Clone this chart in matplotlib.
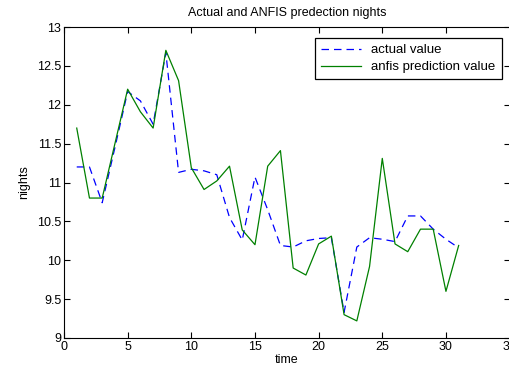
import matplotlib.pyplot as plt

plt.rcParams['font.family'] = ['Liberation Sans', 'DejaVu Sans']

time = list(range(1, 32))
actual = [11.2, 11.2, 10.74, 11.45, 12.17, 12.05, 11.75, 12.67, 11.13, 11.17,
          11.15, 11.1, 10.55, 10.26, 11.07, 10.65, 10.19, 10.17, 10.25, 10.28,
          10.29, 9.33, 10.17, 10.29, 10.27, 10.24, 10.57, 10.57, 10.40, 10.27,
          10.16]
anfis = [11.7, 10.8, 10.8, 11.5, 12.2, 11.91, 11.7, 12.7, 12.31, 11.19,
         10.91, 11.02, 11.21, 10.39, 10.2, 11.21, 11.41, 9.9, 9.81, 10.21,
         10.31, 9.3, 9.22, 9.92, 11.31, 10.21, 10.11, 10.4, 10.4, 9.6,
         10.19]
xticks = [0, 5, 10, 15, 20, 25, 30, 35]
yticks = [9, 9.5, 10, 10.5, 11, 11.5, 12, 12.5, 13]

fig = plt.figure(figsize=(5.09, 3.70), dpi=100)
ax = fig.add_axes([64 / 509, 32 / 370, 445.6 / 509, 311 / 370])

ax.plot(time, actual, color='blue', linestyle='--', dashes=(6, 4), linewidth=0.9,
        label='actual value')
ax.plot(time, anfis, color='#008000', linestyle='-', linewidth=0.9,
        label='anfis prediction value')

ax.set_xlim(0, 35)
ax.set_ylim(9, 13)
ax.set_xticks(xticks)
ax.set_yticks(yticks)
ax.set_yticklabels(['9', '9.5', '10', '10.5', '11', '11.5', '12', '12.5', '13'])
ax.tick_params(direction='in', top=True, right=True, length=4, width=0.8,
               labelsize=9, pad=2)
for s in ax.spines.values():
    s.set_linewidth(0.8)

ax.set_title('Actual and ANFIS predection nights', fontsize=9, pad=8)
ax.set_xlabel('time', fontsize=9, labelpad=1)
ax.set_ylabel('nights', fontsize=9, labelpad=5)

leg = ax.legend(loc='upper right', bbox_to_anchor=(0.997, 0.985), fontsize=9.5,
                fancybox=False, framealpha=1, edgecolor='black',
                handlelength=3.0, borderpad=0.45, labelspacing=0.35)
leg.get_frame().set_linewidth(0.9)

fig.savefig('out.png', dpi=100)
